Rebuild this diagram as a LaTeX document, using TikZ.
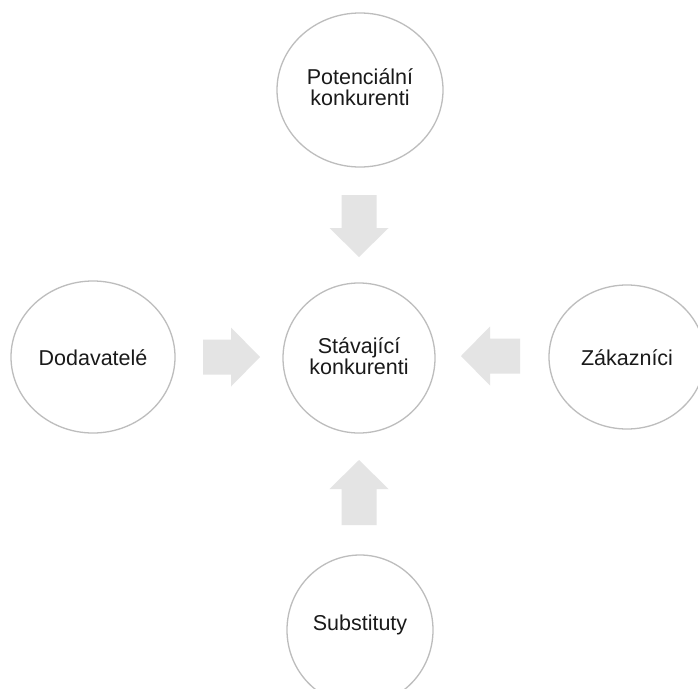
\documentclass[tikz,border=0pt]{standalone}
\usepackage{fontspec}
\setmainfont{Liberation Sans}
\usetikzlibrary{shapes.geometric}
\definecolor{ringgray}{HTML}{BDBDBD}
\definecolor{arrowgray}{HTML}{E4E4E4}
\definecolor{inktext}{HTML}{1A1A1A}
\tikzset{
  force/.style={ellipse, draw=ringgray, line width=1.3pt, fill=white, inner sep=0pt},
  forcelabel/.style={align=center, text=inktext, font=\fontsize{21.5}{21.5}\selectfont},
  % block arrow pointing along +x, tip at the local origin, total length #1
  pics/blockarrow/.style={code={
    \fill[arrowgray] (0,0) -- (-29,29.5) -- (-29,17.5) -- (-#1,17.5)
      -- (-#1,-17.5) -- (-29,-17.5) -- (-29,-29.5) -- cycle;
  }}
}
\begin{document}
\begin{tikzpicture}[x=1pt,y=-1pt]
  \useasboundingbox (0,0) rectangle (698,688);
  \clip (0,0) rectangle (698,688);
  \fill[white] (0,0) rectangle (698,688);

  % the five forces
  \node[force, minimum width=166pt, minimum height=154pt] (potential) at (360,90) {};
  \node[force, minimum width=164pt, minimum height=152pt] (suppliers) at (93,357) {};
  \node[force, minimum width=152pt, minimum height=150pt] (rivals) at (359,358) {};
  \node[force, minimum width=156pt, minimum height=144pt] (buyers) at (627,357) {};
  \node[force, minimum width=146pt, minimum height=150pt] (substitutes) at (360,630) {};

  % labels
  \node[forcelabel] (potentialtext) at (360,87) {Potenciální\\konkurenti};
  \node[forcelabel] (supplierstext) at (93,358) {Dodavatelé};
  \node[forcelabel] (rivalstext) at (359,356) {Stávající\\konkurenti};
  \node[forcelabel] (buyerstext) at (627,358) {Zákazníci};
  \node[forcelabel] (substitutestext) at (360,625) {Substituty};

  % pressure arrows towards the existing competitors
  \pic at (359,257) [rotate=-90] {blockarrow=62};
  \pic at (260,357) {blockarrow=57};
  \pic at (461,356) [rotate=180] {blockarrow=59};
  \pic at (359,460) [rotate=90] {blockarrow=65};
\end{tikzpicture}
\end{document}
